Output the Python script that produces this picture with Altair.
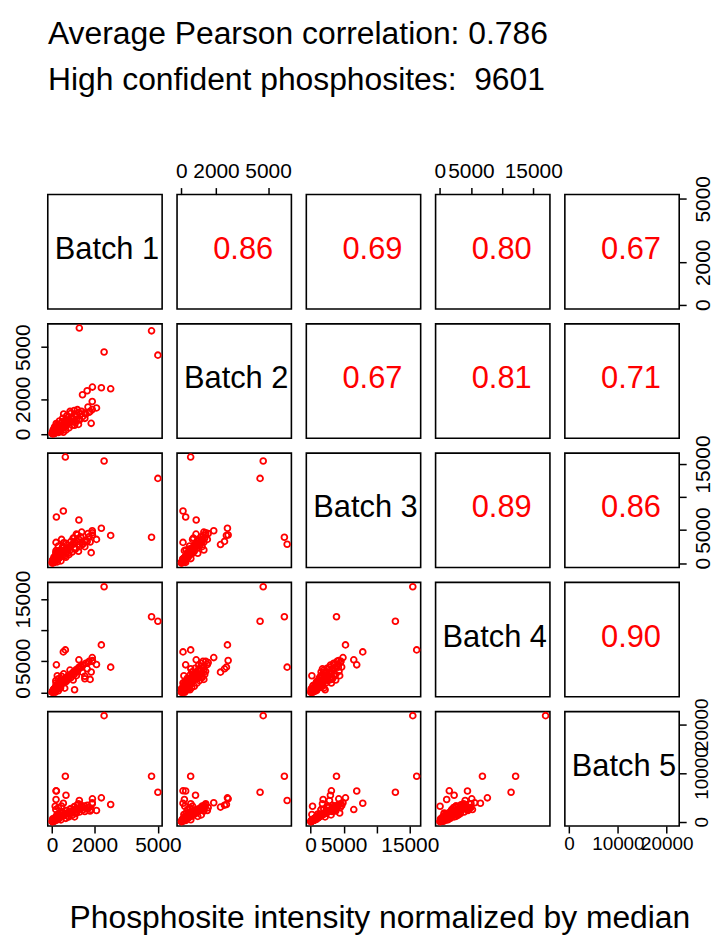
import altair as alt
import pandas as pd

FONT = "Liberation Sans"
W = 115
H = 115

names = ["Batch 1", "Batch 2", "Batch 3", "Batch 4", "Batch 5"]

b1 = [1290, 4700, 5000, 2460, 2770, 2330, 535, 207, 1270, 630,
      1908, 250, 190, 150, 1440, 1660, 660, 190, 1850, 1900,
      1900, 1065, 2100, 1700, 1550, 1800,
      20, 50, 70, 90, 110, 140, 160, 190, 220, 250,
      280, 310, 340, 380, 410, 450, 490, 530, 580, 620,
      680, 730, 790, 850, 920, 1000, 1080, 1150, 1250, 1350,
      60, 300, 120, 420, 200, 650, 350, 800, 500, 950,
      700, 1100, 900, 1300, 1050, 1450, 1200, 1600, 1400, 1750,
      30, 100, 400, 250, 600, 750, 1000, 850, 1150, 550,
      1250, 1550, 300, 180, 450,
      10, 35, 55, 80, 95, 130, 170, 210, 240, 270,
      320, 360, 400, 470, 520, 560, 640, 700, 40, 150,
      260, 90, 200, 330, 15, 60, 120, 230, 380, 500]
b2 = [6100, 5940, 4540, 4720, 2600, 2660, 100, 253, 860, 540,
      2700, 150, 100, 200, 2260, 2490, 820, 180, 610, 1870,
      1410, 500, 1500, 1550, 1200, 1300,
      30, 40, 90, 60, 120, 110, 180, 150, 240, 200,
      300, 260, 370, 320, 440, 380, 520, 450, 620, 540,
      700, 620, 820, 740, 950, 880, 1100, 1000, 1250, 1150,
      250, 80, 400, 150, 600, 220, 750, 350, 900, 500,
      1050, 650, 1200, 800, 1350, 1000, 1400, 1150, 1300, 1250,
      100, 20, 280, 550, 400, 950, 700, 1300, 850, 1150,
      550, 900, 480, 350, 650,
      60, 20, 110, 45, 160, 80, 130, 260, 190, 330,
      230, 420, 300, 500, 360, 580, 450, 650, 150, 50,
      120, 250, 320, 180, 10, 130, 30, 400, 220, 700]
b3 = [2860, 3920, 12820, 15450, 4200, 5280, 7890, 6980, 6530, 16040,
      4265, 200, 3150, 300, 2820, 3300, 3000, 1900, 1600, 4900,
      4600, 2200, 3600, 4500, 2500, 3200,
      80, 150, 220, 300, 350, 420, 500, 580, 680, 750,
      850, 950, 1050, 1150, 1250, 1350, 1500, 1600, 1750, 1900,
      2050, 2200, 2400, 2550, 2750, 2950, 3200, 3450, 3700, 4000,
      120, 650, 900, 350, 1400, 900, 1800, 1300, 2300, 1700,
      2700, 2100, 3300, 2500, 3800, 3000, 4300, 3500, 4700, 4000,
      450, 100, 2000, 700, 1100, 1500, 3800, 2000, 4400, 3100,
      1800, 3300, 2600, 1600, 3600,
      150, 90, 350, 160, 500, 280, 450, 900, 600, 1100,
      800, 1300, 1000, 1700, 1200, 1900, 1500, 2200, 500, 300,
      700, 900, 1200, 800, 40, 500, 200, 1500, 1000, 2500]
b4 = [4070, 12170, 11440, 16980, 4070, 7640, 6520, 4440, 5240, 6840,
      5130, 2680, 1520, 40, 3270, 3800, 2300, 1100, 3300, 5600,
      5000, 440, 4500, 4800, 2600, 2100,
      60, 130, 200, 260, 380, 450, 520, 640, 700, 820,
      900, 1050, 1100, 1250, 1350, 1500, 1600, 1750, 1900, 2050,
      2200, 2400, 2600, 2800, 3000, 3250, 3450, 3700, 3950, 4200,
      450, 280, 500, 1100, 800, 1700, 1000, 2300, 1500, 2800,
      1900, 3300, 2400, 3900, 2900, 4400, 3400, 4700, 4100, 5000,
      100, 600, 700, 1300, 700, 2600, 2000, 3600, 2700, 3000,
      3800, 2200, 2200, 1900, 2600,
      100, 180, 300, 350, 400, 600, 500, 800, 900, 1000,
      1200, 1100, 1400, 1600, 1900, 1700, 2300, 2100, 200, 700,
      500, 300, 1000, 1300, 30, 250, 600, 900, 1800, 2000]
b5 = [4350, 9325, 6050, 21750, 3530, 4900, 3800, 6300, 2500, 9325,
      4700, 1500, 6340, 3180, 3000, 3400, 5435, 4555, 2500, 3900,
      3700, 1000, 2300, 2900, 3200, 2200,
      50, 100, 180, 210, 280, 330, 410, 460, 560, 600,
      700, 760, 850, 920, 1000, 1080, 1200, 1280, 1400, 1500,
      1650, 1750, 1900, 2000, 2150, 2300, 2500, 2650, 2800, 3000,
      250, 520, 750, 380, 1150, 700, 1500, 1000, 1900, 1300,
      2300, 1700, 2700, 2000, 3100, 2400, 3500, 2700, 3300, 2900,
      600, 120, 1800, 400, 1600, 1100, 2200, 2600, 1800, 1400,
      3700, 2100, 2900, 2500, 3200,
      90, 60, 250, 200, 350, 400, 300, 700, 650, 800,
      900, 1000, 1100, 1300, 1250, 1500, 1600, 1750, 300, 450,
      550, 500, 850, 950, 20, 350, 150, 1200, 1100, 1900]

corr_pairs = [(0, 1), (0, 2), (0, 3), (0, 4), (1, 2), (1, 3), (1, 4), (2, 3), (2, 4), (3, 4)]
corr_text = ["0.86", "0.69", "0.80", "0.67", "0.67", "0.81", "0.71", "0.89", "0.86", "0.90"]

domains = [[-200, 5200], [-244, 6344], [-640, 16640], [-680, 17680], [-870, 22570]]
tick_values = [[0, 2000, 5000], [0, 2000, 5000], [0, 5000, 10000, 15000],
               [0, 5000, 10000, 15000], [0, 10000, 20000]]

title_lines = ["Average Pearson correlation: 0.786", "High confident phosphosites: \u00a09601"]
bottom_title = "Phosphosite intensity normalized by median"

df = pd.DataFrame({"b0": b1, "b1": b2, "b2": b3, "b3": b4, "b4": b5})


def make_axis(i, orient):
    expr = "datum.value == 10000 ? '' : datum.label" if i in (2, 3) else "datum.label"
    fs = 19 if i == 4 else 21
    kw = dict(values=tick_values[i], format="d", domain=False, grid=False, ticks=True,
              tickSize=7, tickWidth=1.5, tickColor="black", labelFont=FONT,
              labelFontSize=fs, labelColor="black", labelOverlap=False,
              labelFlush=False, labelBound=False, labelExpr=expr, title=None,
              orient=orient)
    if orient == "left":
        kw.update(labelAngle=270, labelAlign="center", labelBaseline="bottom", labelPadding=7)
    elif orient == "right":
        kw.update(labelAngle=270, labelAlign="center", labelBaseline="top", labelPadding=6)
    elif orient == "top":
        kw.update(labelAngle=0, labelAlign="center", labelBaseline="bottom", labelPadding=6)
    else:
        kw.update(labelAngle=0, labelAlign="center", labelBaseline="top", labelPadding=2)
    return alt.Axis(**kw)


view = alt.ViewBackground(stroke="black", strokeWidth=1.6, fill="white")

panels = []
for r in range(5):
    for c in range(5):
        xaxis = None
        if r == 0 and c % 2 == 1:
            xaxis = make_axis(c, "top")
        elif r == 4 and c % 2 == 0:
            xaxis = make_axis(c, "bottom")
        yaxis = None
        if c == 0 and r % 2 == 1:
            yaxis = make_axis(r, "left")
        elif c == 4 and r % 2 == 0:
            yaxis = make_axis(r, "right")
        x = alt.X(f"b{c}:Q", scale=alt.Scale(domain=domains[c], nice=False, zero=False), axis=xaxis)
        y = alt.Y(f"b{r}:Q", scale=alt.Scale(domain=domains[r], nice=False, zero=False), axis=yaxis)
        if r > c:
            ch = alt.Chart(df).mark_point(filled=False, color="#ff0000", size=34,
                                          strokeWidth=1.8, opacity=1).encode(x=x, y=y)
        else:
            base = alt.Chart(df).mark_point(opacity=0).encode(x=x, y=y)
            if r == c:
                label, color, dx = names[r], "black", 2
            else:
                label = corr_text[corr_pairs.index((r, c))]
                color, dx = "#ff0000", 9
            txt = alt.Chart(pd.DataFrame({"t": [label]})).mark_text(
                font=FONT, fontSize=31, color=color, baseline="middle", align="center"
            ).encode(text="t:N", x=alt.value(W / 2 + dx), y=alt.value(H / 2 - 2))
            ch = alt.layer(base, txt)
        panels.append(ch.properties(width=W, height=H, view=view))

grid = alt.concat(*panels, columns=5, spacing=15, bounds="flush").properties(
    title=alt.TitleParams(text=bottom_title, orient="bottom", anchor="middle",
                          font=FONT, fontSize=32, fontWeight="normal", color="black",
                          offset=47, dx=17)
)

chart = alt.vconcat(grid).properties(
    title=alt.TitleParams(text=title_lines, anchor="start", font=FONT, fontSize=32,
                          fontWeight="normal", color="black", lineHeight=47,
                          offset=63, dx=36),
    padding={"left": 4, "right": 2, "top": 7, "bottom": 0},
).configure_view(stroke="black", strokeWidth=1.6).configure(background="white")

chart.save("out.html", embed_options={"renderer": "svg", "actions": False})
